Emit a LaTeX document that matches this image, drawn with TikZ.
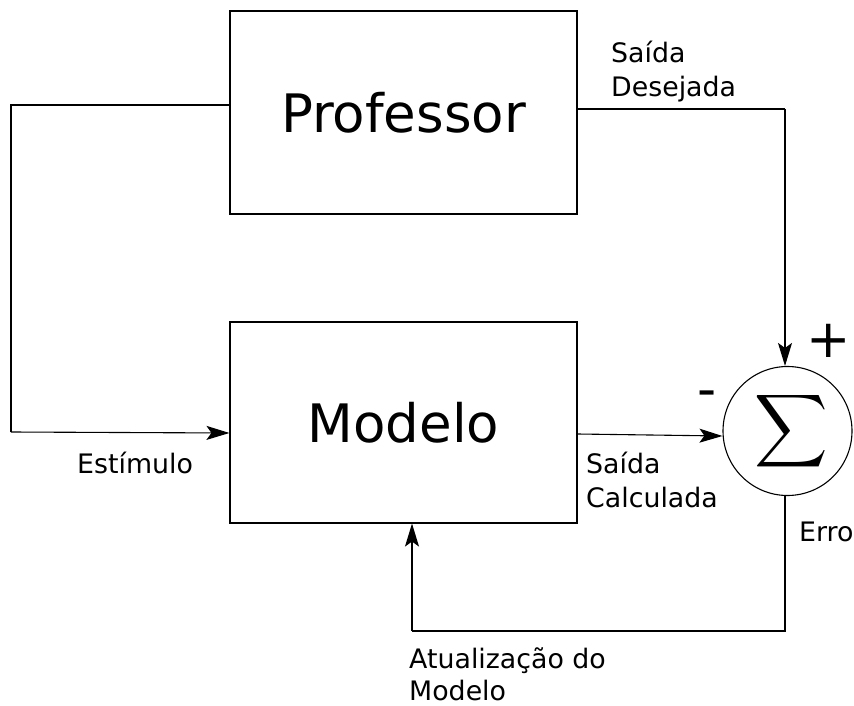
\documentclass[tikz,border=0pt]{standalone}
\usepackage{fontspec}
\usepackage{graphicx}
\setmainfont{DejaVu Sans}
\usetikzlibrary{arrows.meta,calc}
\begin{document}
\begin{tikzpicture}[x=1pt,y=-1pt,
  blk/.style={draw,line width=1.1pt,minimum width=347pt,minimum height=203pt,inner sep=0pt,font=\fontsize{53}{60}\selectfont},
  conn/.style={line width=1.1pt},
  arr/.style={conn,-{Stealth[length=23pt,width=14pt,inset=5pt]}},
  lbl/.style={anchor=base west,inner sep=0pt,font=\fontsize{26.8}{34}\selectfont},
  sign/.style={anchor=base,inner sep=0pt,font=\fontsize{53}{60}\selectfont}]
\useasboundingbox (0,0) rectangle (854,706);
\node[blk] (prof) at (403.5,112.5) {Professor};
\node[blk,minimum height=201pt] (mod) at (403.5,422.5) {Modelo};
\node[draw,circle,line width=1.1pt,minimum size=129pt,inner sep=0pt] (sum) at (787.5,431) {};
\node[inner sep=0pt] (sigma) at (791,431.5) {\scalebox{5.1}{$\displaystyle\sum$}};
\coordinate (c1) at (11,105);
\coordinate (c2) at (11,432);
\coordinate (c3) at (785,109);
\coordinate (c4) at (785,631);
\coordinate (c5) at (412,631);
\draw[conn] (prof.west |- c1) -- (c1) -- (c2);
\draw[arr] (c2) -- (mod.west |- 0,433);
\draw[conn] (prof.east |- c3) -- (c3);
\draw[arr] (c3) -- (c3 |- sum.north);
\draw[arr] (mod.east |- 0,434) -- (sum.west |- 0,436);
\draw[conn] (sum.south -| c4) -- (c4) -- (c5);
\draw[arr] (c5) -- (c5 |- mod.south);
\node[lbl] (sd1) at (611,63) {Saída};
\node[lbl] (sd2) at (611,97) {Desejada};
\node[lbl] (est) at (77,473) {Estímulo};
\node[lbl] (sc1) at (586,473) {Saída};
\node[lbl] (sc2) at (586,507) {Calculada};
\node[lbl] (err) at (799,541) {Erro};
\node[lbl] (am1) at (409,668) {Atualização do};
\node[lbl] (am2) at (409,700) {Modelo};
\node[sign] (plus) at (828.5,357) {+};
\node[sign] (minus) at (707.5,407) {-};
\end{tikzpicture}
\end{document}
